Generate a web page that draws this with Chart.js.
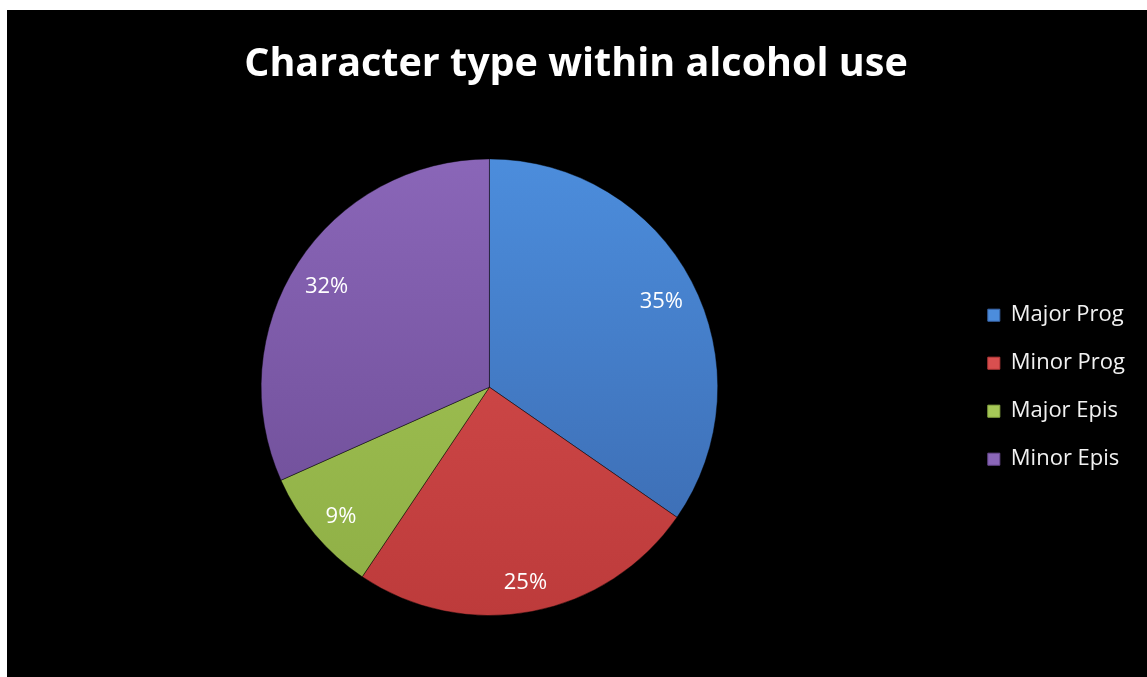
<!DOCTYPE html>
<html>
<head>
<meta charset="utf-8">
<script src="https://cdn.jsdelivr.net/npm/chart.js@4/dist/chart.umd.min.js"></script>
<style>
  html, body { margin: 0; padding: 0; background: #fff; }
  #frame { position: absolute; left: 7px; top: 10px; width: 1140px; height: 667px; background: #000; }
</style>
</head>
<body>
<div id="frame"><canvas id="pie" width="1140" height="667"></canvas></div>
<script>
const categories = ['Major Prog', 'Minor Prog', 'Major Epis', 'Minor Epis'];
const shares = [35, 25, 9, 32];
const topColors = ['#4c8ddc', '#d94f4f', '#a6c857', '#8a66b8'];
const bottomColors = ['#3a68ad', '#bd3b3b', '#8eae45', '#6a4a92'];

function sliceFill(context) {
  const chart = context.chart;
  const area = chart.chartArea;
  const i = context.dataIndex;
  if (!area) return topColors[i];
  const g = chart.ctx.createLinearGradient(0, area.top, 0, area.bottom);
  g.addColorStop(0, topColors[i]);
  g.addColorStop(1, bottomColors[i]);
  return g;
}

// percentage labels placed along the middle angle of each slice
const sliceLabels = {
  id: 'sliceLabels',
  afterDatasetsDraw(chart) {
    const ctx = chart.ctx;
    const meta = chart.getDatasetMeta(0);
    ctx.save();
    ctx.font = '22px "Open Sans", sans-serif';
    ctx.fillStyle = '#ffffff';
    ctx.textAlign = 'center';
    ctx.textBaseline = 'middle';
    meta.data.forEach((arc, i) => {
      const p = arc.getProps(['x', 'y', 'startAngle', 'endAngle', 'outerRadius'], true);
      const mid = (p.startAngle + p.endAngle) / 2;
      const r = p.outerRadius * 0.85;
      ctx.fillText(shares[i] + '%', p.x + Math.cos(mid) * r, p.y + Math.sin(mid) * r + 5);
    });
    ctx.restore();
  }
};

new Chart(document.getElementById('pie'), {
  type: 'pie',
  data: {
    labels: categories,
    datasets: [{
      data: shares,
      backgroundColor: sliceFill,
      borderColor: 'rgba(0,0,0,0.45)',
      borderWidth: 1
    }]
  },
  options: {
    responsive: false,
    animation: false,
    layout: { padding: { left: 10, right: 12, top: 0, bottom: 61 } },
    plugins: {
      title: {
        display: true,
        text: 'Character type within alcohol use',
        color: '#ffffff',
        font: { family: '"Open Sans", sans-serif', size: 39.5, weight: 'bold', lineHeight: 1.2 },
        padding: { top: 31, bottom: 70 }
      },
      legend: {
        position: 'right',
        fullSize: false,
        labels: {
          color: '#f2f2f2',
          font: { family: '"Open Sans", sans-serif', size: 22 },
          boxWidth: 12,
          boxHeight: 12,
          padding: 26,
          generateLabels(chart) {
            return categories.map((c, i) => ({
              text: c,
              fillStyle: topColors[i],
              strokeStyle: bottomColors[i],
              lineWidth: 1,
              fontColor: '#f2f2f2',
              index: i
            }));
          }
        }
      },
      tooltip: { enabled: false }
    }
  },
  plugins: [sliceLabels]
});
</script>
</body>
</html>
